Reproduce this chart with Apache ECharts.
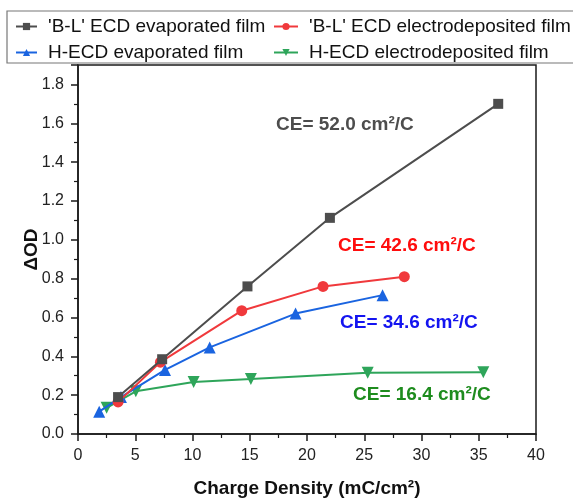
<!DOCTYPE html>
<html>
<head>
<meta charset="utf-8">
<title>Charge density vs OD</title>
<script src="https://cdn.jsdelivr.net/npm/echarts@6/dist/echarts.min.js"></script>
<style>
    html, body { margin: 0; padding: 0; background: #fff; }
    #chart { width: 573px; height: 499px; }
</style>
</head>
<body>
<div id="chart"></div>
<script>

// Data
// ------------------------------

var seriesNames = [
    "'B-L' ECD evaporated film",
    "'B-L' ECD electrodeposited film",
    'H-ECD evaporated film',
    'H-ECD electrodeposited film'
];

// x: charge density (mC/cm2), y: delta OD
var blEvaporated = [[3.5, 0.19], [7.35, 0.385], [14.8, 0.76], [22.0, 1.113], [36.7, 1.70]];
var blElectro = [[3.5, 0.165], [7.2, 0.37], [14.3, 0.635], [21.4, 0.76], [28.5, 0.81]];
var hEvaporated = [[1.85, 0.115], [3.75, 0.19], [7.6, 0.33], [11.5, 0.446], [19.0, 0.62], [26.6, 0.715]];
var hElectro = [[2.5, 0.135], [5.05, 0.22], [10.1, 0.268], [15.1, 0.283], [25.3, 0.315], [35.4, 0.318]];

var ceLabels = ['CE= 52.0 cm²/C', 'CE= 42.6 cm²/C', 'CE= 34.6 cm²/C', 'CE= 16.4 cm²/C'];


// Chart setup
// ------------------------------

var ChartChargeDensity = function() {

    var _init = function() {
        if (typeof echarts == 'undefined') {
            console.warn('Warning - echarts.min.js is not loaded.');
            return;
        }

        var element = document.getElementById('chart');
        if (!element) return;

        var chart = echarts.init(element, null, { renderer: 'canvas' });

        var fontFamily = "'Liberation Sans', Arial, Helvetica, sans-serif";
        var lineColors = ['#4d4d4d', '#f0393c', '#1a64e0', '#2ea55a'];
        var textColors = ['#4d4d4d', '#ff0d0d', '#1414f0', '#1e8c1e'];
        var symbols = ['rect', 'circle', 'triangle', 'path://M0,0 L10,0 L5,9 Z'];
        var symbolSizes = [10, 11, 12, 12];
        var seriesData = [blEvaporated, blElectro, hEvaporated, hElectro];

        // Common axis styles
        var axisLine = { show: true, onZero: false, lineStyle: { color: '#1a1a1a', width: 1.5 } };
        var axisTick = { show: true, inside: false, length: 7, lineStyle: { color: '#1a1a1a', width: 1.5 } };
        var minorTick = { show: true, splitNumber: 2, length: 4, lineStyle: { color: '#1a1a1a', width: 1.2 } };
        var axisLabel = { color: '#222', fontSize: 16, fontFamily: fontFamily };

        var series = seriesData.map(function(data, i) {
            return {
                name: seriesNames[i],
                type: 'line',
                data: data,
                symbol: symbols[i],
                symbolSize: symbolSizes[i],
                showAllSymbol: true,
                z: 10 - i,
                lineStyle: { color: lineColors[i], width: 2 },
                itemStyle: { color: lineColors[i] },
                emphasis: { disabled: true },
                animation: false
            };
        });

        var legendText = { color: '#111', fontSize: 19, fontFamily: fontFamily, padding: [0, 0, 0, 6] };

        chart.setOption({
            backgroundColor: '#fff',
            textStyle: { fontFamily: fontFamily },
            animation: false,

            grid: {
                left: 78,
                right: 37,
                top: 65,
                bottom: 65,
                outerBoundsMode: 'none',
                show: true,
                borderColor: '#1a1a1a',
                borderWidth: 1.5,
                backgroundColor: 'transparent'
            },

            legend: [{
                data: [seriesNames[0], seriesNames[2]],
                orient: 'vertical',
                left: 10,
                top: 12,
                itemGap: 7,
                itemWidth: 21,
                itemHeight: 9,
                selectedMode: false,
                textStyle: legendText
            }, {
                data: [seriesNames[1], seriesNames[3]],
                orient: 'vertical',
                left: 268,
                top: 12,
                itemGap: 7,
                itemWidth: 24,
                itemHeight: 9,
                selectedMode: false,
                textStyle: legendText
            }],

            xAxis: {
                type: 'value',
                min: 0,
                max: 40,
                interval: 5,
                name: 'Charge Density (mC/cm²)',
                nameLocation: 'middle',
                nameGap: 45,
                nameTextStyle: { color: '#111', fontSize: 19, fontWeight: 'bold', fontFamily: fontFamily },
                axisLine: axisLine,
                axisTick: axisTick,
                minorTick: minorTick,
                axisLabel: Object.assign({ margin: 14 }, axisLabel),
                splitLine: { show: false }
            },

            yAxis: {
                type: 'value',
                min: 0,
                max: 1.9,
                interval: 0.2,
                name: 'ΔOD',
                nameLocation: 'middle',
                nameGap: 37,
                nameMoveOverlap: false,
                nameTextStyle: { color: '#111', fontSize: 19, fontWeight: 'bold', fontFamily: fontFamily },
                axisLine: axisLine,
                axisTick: axisTick,
                minorTick: minorTick,
                axisLabel: Object.assign({
                    margin: 14,
                    showMaxLabel: false,
                    formatter: function(v) { return v.toFixed(1); }
                }, axisLabel),
                splitLine: { show: false }
            },

            graphic: [
                // Legend frame
                {
                    type: 'rect',
                    shape: { x: 7, y: 11, width: 575, height: 52 },
                    style: { fill: 'none', stroke: '#777', lineWidth: 1.2 },
                    silent: true
                },
                // Coulombic efficiency notes
                { type: 'text', left: 276, top: 115, style: { text: ceLabels[0], fill: textColors[0], font: 'bold 19px ' + fontFamily } },
                { type: 'text', left: 338, top: 236, style: { text: ceLabels[1], fill: textColors[1], font: 'bold 19px ' + fontFamily } },
                { type: 'text', left: 340, top: 313, style: { text: ceLabels[2], fill: textColors[2], font: 'bold 19px ' + fontFamily } },
                { type: 'text', left: 353, top: 385, style: { text: ceLabels[3], fill: textColors[3], font: 'bold 19px ' + fontFamily } }
            ],

            series: series
        });
    };

    return {
        init: function() {
            _init();
        }
    };
}();

document.addEventListener('DOMContentLoaded', function() {
    ChartChargeDensity.init();
});
</script>
</body>
</html>
